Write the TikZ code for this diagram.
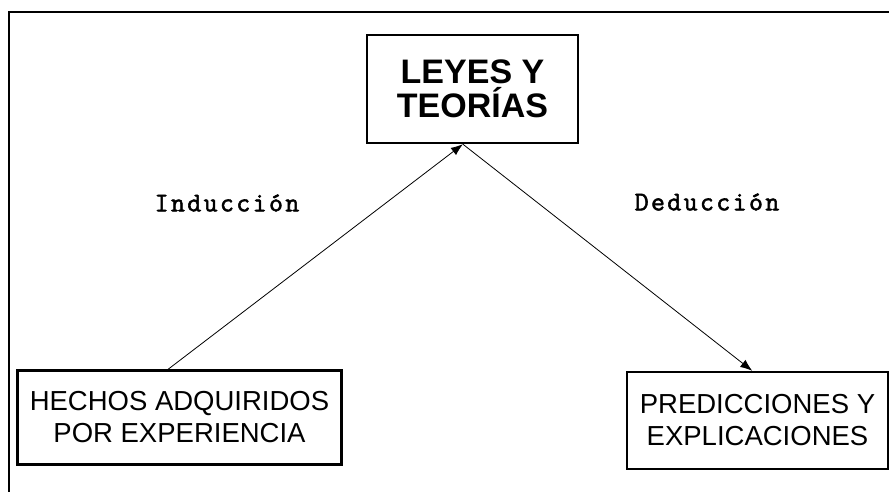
\documentclass[tikz,border=0pt]{standalone}
\usepackage{fontspec}
\setmainfont{Liberation Sans}
\newfontfamily\labelfont[LetterSpace=9,FakeBold=2]{Latin Modern Mono}
\usetikzlibrary{arrows.meta,calc}

\begin{document}
\begin{tikzpicture}[
    x=1pt, y=-1pt,
    box/.style={rectangle, draw, line width=2.4pt, inner sep=0pt, align=center},
    arrow/.style={-{Latex[length=12pt,width=9pt]}, line width=0.8pt},
    lab/.style={font=\labelfont\fontsize{27}{30}\selectfont}
]
    \useasboundingbox (0,0) rectangle (889,491);
    % outer frame
    \draw[line width=2pt] (9,12) rectangle (900,505);

    \node[box, minimum width=211pt, minimum height=108pt,
          font=\bfseries\fontsize{34}{34}\selectfont] (leyes) at (472.5,89) {LEYES Y\\TEORÍAS};
    \node[box, minimum width=324pt, minimum height=94pt,
          font=\fontsize{27.5}{32}\selectfont] (hechos) at (179.5,417.5) {HECHOS ADQUIRIDOS\\POR EXPERIENCIA};
    \node[box, minimum width=261pt, minimum height=97pt,
          font=\fontsize{27.5}{32}\selectfont] (pred) at (757.5,420.5) {PREDICCIONES Y\\EXPLICACIONES};

    \node[lab] (ind) at (227,203) {Inducción};
    \node[lab] (ded) at (707,202) {Deducción};

    \draw[arrow] ($(hechos.north west)!0.465!(hechos.north east)$) -- ($(leyes.south west)!0.455!(leyes.south east)$);
    \draw[arrow] ($(leyes.south west)!0.455!(leyes.south east)$) -- ($(pred.north west)!0.48!(pred.north east)$);
\end{tikzpicture}
\end{document}
